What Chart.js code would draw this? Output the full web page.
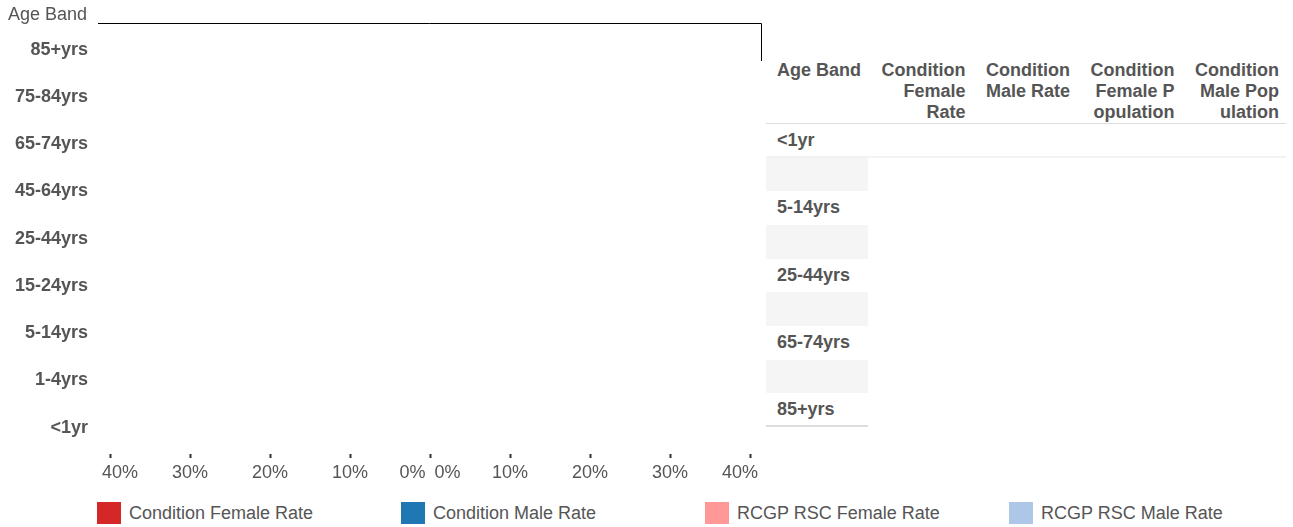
<!DOCTYPE html>
<html>
<head>
<meta charset="utf-8">
<script src="https://cdn.jsdelivr.net/npm/chart.js@4"></script>
<style>
  body { margin: 0; background: #fff; font-family: "Liberation Sans", Arial, sans-serif; color: #555; }
  #wrap { position: relative; width: 1293px; height: 527px; overflow: hidden; }
  #chart { position: absolute; left: 0; top: 0; }
  #tbl { position: absolute; left: 766px; top: 60px; width: 520px; font-weight: bold; font-size: 18px; }
  #tbl .row { display: flex; }
  #tbl .head { height: 64px; line-height: 21px; border-bottom: 1px solid #ddd; box-sizing: border-box; }
  #tbl .cell { width: 104.5px; box-sizing: border-box; text-align: right; padding-right: 7px; }
  #tbl .cell.first { width: 102px; text-align: left; padding-left: 11px; padding-right: 0; }
  #tbl .body { height: 33.67px; line-height: 33.67px; }
  #tbl .body.stripe .first { background: #f5f5f5; }
  #tbl .body.sep { border-bottom: 2px solid #f2f2f2; box-sizing: border-box; }
  #tbl .body.last .first { border-bottom: 2px solid #ddd; box-sizing: border-box; }
  #legend { position: absolute; left: 97px; top: 502px; display: flex; font-size: 18px; }
  #legend .item { width: 304px; display: flex; align-items: center; height: 22px; }
  #legend .box { width: 24px; height: 22px; margin-right: 8px; }
</style>
</head>
<body>
<div id="wrap">
  <canvas id="chart" width="766" height="490"></canvas>
  <div id="tbl"></div>
  <div id="legend"></div>
</div>
<script>
// age bands, top to bottom
var ageBands = ['85+yrs', '75-84yrs', '65-74yrs', '45-64yrs', '25-44yrs', '15-24yrs', '5-14yrs', '1-4yrs', '<1yr'];

// no values shown in the picture
var conditionFemaleRate = [null, null, null, null, null, null, null, null, null];
var conditionMaleRate = [null, null, null, null, null, null, null, null, null];
var rcgpFemaleRate = [null, null, null, null, null, null, null, null, null];
var rcgpMaleRate = [null, null, null, null, null, null, null, null, null];

var xTickValues = [-40, -30, -20, -10, 0, 10, 20, 30, 40];
var xTickLabels = ['    40%', '30%', '20%', '10%', '0%\u20020%', '10%', '20%', '30%', '40%    '];

var tableHeaders = ['Age Band', 'Condition<br>Female<br>Rate', 'Condition<br>Male Rate', 'Condition<br>Female P<br>opulation', 'Condition<br>Male Pop<br>ulation'];
var tableRows = ['<1yr', '', '5-14yrs', '', '25-44yrs', '', '65-74yrs', '', '85+yrs'];

function neg(arr) {
   return arr.map(function(v) { return v == null ? null : -v; });
}

var frameLines = {
   id: 'frameLines',
   afterDraw: function(chart) {
      var ctx = chart.ctx, a = chart.chartArea;
      ctx.save();
      ctx.strokeStyle = '#000';
      ctx.lineWidth = 1;
      ctx.beginPath();
      ctx.moveTo(a.left, 23.5);
      ctx.lineTo(a.right - 0.5, 23.5);
      ctx.lineTo(a.right - 0.5, 61);
      ctx.stroke();
      ctx.restore();
   }
};

var ctx = document.getElementById('chart').getContext('2d');
Chart.defaults.font.family = '"Liberation Sans", Arial, sans-serif';
Chart.defaults.color = '#555';

var myChart = new Chart(ctx, {
   type: 'bar',
   data: {
      labels: ageBands,
      datasets: [
         { label: 'Condition Female Rate', data: neg(conditionFemaleRate), backgroundColor: '#d62728' },
         { label: 'Condition Male Rate', data: conditionMaleRate, backgroundColor: '#1f77b4' },
         { label: 'RCGP RSC Female Rate', data: neg(rcgpFemaleRate), backgroundColor: '#ff9896' },
         { label: 'RCGP RSC Male Rate', data: rcgpMaleRate, backgroundColor: '#aec7e8' }
      ]
   },
   options: {
      indexAxis: 'y',
      responsive: false,
      animation: false,
      grouped: false,
      layout: { padding: { left: 8, right: 4, bottom: 2, top: 0 } },
      plugins: {
         legend: { display: false },
         tooltip: { enabled: false },
         title: {
            display: true,
            text: 'Age Band',
            align: 'start',
            color: '#555',
            font: { size: 18, weight: 'normal', lineHeight: 1 },
            padding: { top: 6, bottom: 2 }
         }
      },
      scales: {
         x: {
            min: -41.5,
            max: 41.5,
            border: { display: false },
            grid: {
               drawOnChartArea: false,
               drawTicks: true,
               tickLength: 7,
               tickWidth: 2,
               tickColor: '#333',
               tickBorderDash: [0, 3, 4, 20]
            },
            afterBuildTicks: function(scale) {
               scale.ticks = xTickValues.map(function(v) { return { value: v }; });
            },
            afterFit: function(scale) {
               scale.paddingLeft = 0;
               scale.paddingRight = 0;
            },
            ticks: {
               autoSkip: false,
               maxRotation: 0,
               padding: 4,
               color: '#555',
               font: { size: 18 },
               callback: function(value, index) { return xTickLabels[index]; }
            }
         },
         y: {
            border: { display: false },
            grid: { display: false, drawTicks: false },
            afterFit: function(scale) { scale.width = 90; },
            ticks: {
               padding: 10,
               color: '#555',
               font: { size: 18, weight: 'bold' }
            }
         }
      }
   },
   plugins: [frameLines]
});

// table on the right
var tbl = document.getElementById('tbl');
var html = '<div class="row head">';
tableHeaders.forEach(function(h, i) {
   html += '<div class="cell' + (i === 0 ? ' first' : '') + '">' + h + '</div>';
});
html += '</div>';
tableRows.forEach(function(r, i) {
   var cls = 'row body';
   if (i % 2 === 1) cls += ' stripe';
   if (i === 0) cls += ' sep';
   if (i === tableRows.length - 1) cls += ' last';
   html += '<div class="' + cls + '"><div class="cell first">' + r.replace('<', '&lt;') + '</div>';
   for (var c = 1; c < tableHeaders.length; c++) html += '<div class="cell"></div>';
   html += '</div>';
});
tbl.innerHTML = html;

// legend from the chart's datasets
var legend = document.getElementById('legend');
myChart.data.datasets.forEach(function(ds) {
   var item = document.createElement('div');
   item.className = 'item';
   item.innerHTML = '<div class="box" style="background:' + ds.backgroundColor + '"></div><span>' + ds.label + '</span>';
   legend.appendChild(item);
});
</script>
</body>
</html>
